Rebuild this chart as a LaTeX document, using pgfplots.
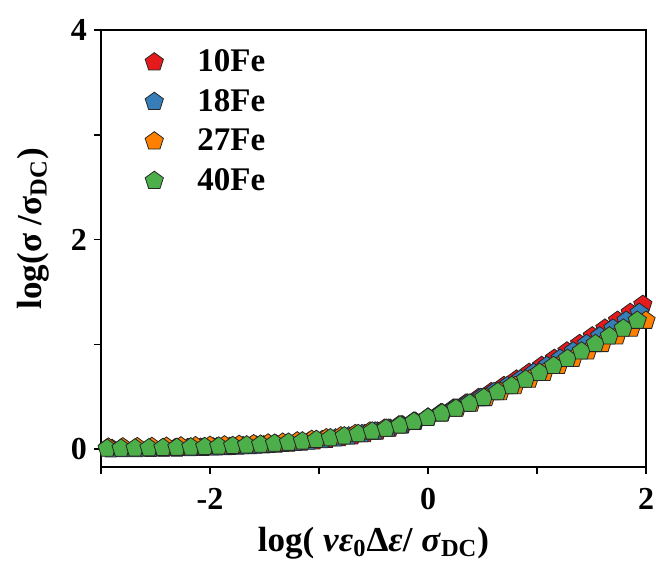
\documentclass[border=0pt]{standalone}
\usepackage{pgfplots}
\pgfplotsset{compat=1.18}
\usetikzlibrary{plotmarks}
\usepackage{fontspec}
\setmainfont{Liberation Serif}
\definecolor{cR}{HTML}{E41A1C}
\definecolor{cB}{HTML}{377EB8}
\definecolor{cO}{HTML}{FF7F00}
\definecolor{cG}{HTML}{4DAF4A}
\begin{document}
\begin{tikzpicture}
\begin{axis}[
 scale only axis, width=272.5pt, height=218.5pt,
 xmin=-3, xmax=2, ymin=-0.17, ymax=4,
 xtick={-2,0,2}, minor xtick={-3,-1,1}, ytick={0,2,4}, minor ytick={1,3},
 tick align=outside, xtick pos=bottom, ytick pos=left,
 major tick length=3.5pt, minor tick length=3.5pt,
 axis line style={line width=0.8pt}, tick style={line width=0.8pt, black},
 /pgf/number format/assume math mode=true,
 ticklabel style={font=\fontsize{16}{16}\selectfont\bfseries},
 xticklabel style={yshift=-3.5pt},
 label style={font=\fontsize{17.5}{17.5}\selectfont\bfseries},
 xlabel={log( \textit{ν}\textit{ε}\textsubscript{0}Δ\textit{ε}/ \textit{σ}\textsubscript{DC})},
 ylabel={log(σ /σ\textsubscript{DC})},
 xlabel style={yshift=-2pt},
 ylabel style={at={(ticklabel cs:0.545)}, yshift=4pt},
 legend style={at={(0.054,0.974)}, anchor=north west, draw=none, fill=none,
   font=\fontsize{16.5}{16.5}\selectfont\bfseries, row sep=3.3pt},
 legend cell align=left,
 legend image code/.code={\path (0cm,0cm) (0.98cm,0cm); \draw[#1] plot coordinates {(0.3cm,0cm)};},
 every axis plot/.append style={only marks, mark=pentagon*, mark size=4.8pt},
]
\addplot[mark options={fill=cR, draw=black!85, line width=0.4pt}] coordinates {
(-2.899,0.004) (-2.783,0.005) (-2.667,0.006) (-2.551,0.007) (-2.435,0.009) (-2.319,0.011)
(-2.203,0.013) (-2.087,0.015) (-1.971,0.019) (-1.855,0.022) (-1.739,0.027) (-1.623,0.032)
(-1.507,0.038) (-1.391,0.045) (-1.275,0.054) (-1.159,0.064) (-1.043,0.076) (-0.928,0.090)
(-0.812,0.106) (-0.696,0.124) (-0.580,0.146) (-0.464,0.170) (-0.348,0.197) (-0.232,0.228)
(-0.116,0.263) (0,0.301) (0.116,0.343) (0.232,0.388) (0.348,0.437) (0.464,0.490)
(0.580,0.546) (0.696,0.604) (0.812,0.666) (0.928,0.730) (1.043,0.796) (1.159,0.864)
(1.275,0.934) (1.391,1.005) (1.507,1.078) (1.623,1.152) (1.739,1.227) (1.855,1.302)
(1.971,1.379) (2.087,1.455)};
\addlegendentry{10Fe}
\addplot[mark options={fill=cB, draw=black!85, line width=0.4pt}] coordinates {
(-2.909,0.000) (-2.788,0.001) (-2.667,0.002) (-2.545,0.004) (-2.424,0.006) (-2.303,0.008)
(-2.182,0.011) (-2.061,0.015) (-1.939,0.019) (-1.818,0.024) (-1.697,0.030) (-1.576,0.036)
(-1.455,0.043) (-1.333,0.052) (-1.212,0.062) (-1.091,0.074) (-0.970,0.088) (-0.848,0.104)
(-0.727,0.123) (-0.606,0.145) (-0.485,0.170) (-0.364,0.197) (-0.242,0.228) (-0.121,0.263)
(0,0.301) (0.121,0.343) (0.242,0.388) (0.364,0.437) (0.485,0.490) (0.606,0.546)
(0.727,0.604) (0.848,0.666) (0.970,0.730) (1.091,0.796) (1.212,0.864) (1.333,0.934)
(1.455,1.005) (1.576,1.078) (1.697,1.152) (1.818,1.227) (1.939,1.302) (2.061,1.379)};
\addlegendentry{18Fe}
\addplot[mark options={fill=cO, draw=black!85, line width=0.4pt}] coordinates {
(-2.933,0.017) (-2.800,0.019) (-2.667,0.021) (-2.533,0.023) (-2.400,0.025) (-2.267,0.028)
(-2.133,0.030) (-2.000,0.034) (-1.867,0.038) (-1.733,0.043) (-1.600,0.049) (-1.467,0.056)
(-1.333,0.064) (-1.200,0.076) (-1.067,0.090) (-0.933,0.106) (-0.800,0.124) (-0.667,0.146)
(-0.533,0.170) (-0.400,0.197) (-0.267,0.228) (-0.133,0.263) (0,0.301) (0.133,0.343)
(0.267,0.388) (0.400,0.437) (0.533,0.490) (0.667,0.546) (0.800,0.604) (0.933,0.666)
(1.067,0.730) (1.200,0.796) (1.333,0.864) (1.467,0.934) (1.600,1.005) (1.733,1.078)
(1.867,1.152) (2.000,1.227)};
\addlegendentry{27Fe}
\addplot[mark options={fill=cG, draw=black!85, line width=0.4pt}] coordinates {
(-2.944,0.006) (-2.816,0.007) (-2.688,0.009) (-2.560,0.011) (-2.432,0.013) (-2.304,0.015)
(-2.176,0.019) (-2.048,0.022) (-1.920,0.027) (-1.792,0.032) (-1.664,0.038) (-1.536,0.045)
(-1.408,0.054) (-1.280,0.064) (-1.152,0.076) (-1.024,0.090) (-0.896,0.106) (-0.768,0.124)
(-0.640,0.146) (-0.512,0.170) (-0.384,0.197) (-0.256,0.228) (-0.128,0.263) (0,0.301)
(0.128,0.343) (0.256,0.388) (0.384,0.437) (0.512,0.490) (0.640,0.546) (0.768,0.604)
(0.896,0.666) (1.024,0.730) (1.152,0.796) (1.280,0.864) (1.408,0.934) (1.536,1.005)
(1.664,1.078) (1.792,1.152) (1.920,1.227) (2.048,1.302)};
\addlegendentry{40Fe}
\end{axis}
\pgfresetboundingbox
\path[use as bounding box] ([xshift=-50.5pt,yshift=-47pt]current axis.south west) rectangle ++(328pt,280.5pt);
\end{tikzpicture}
\end{document}
